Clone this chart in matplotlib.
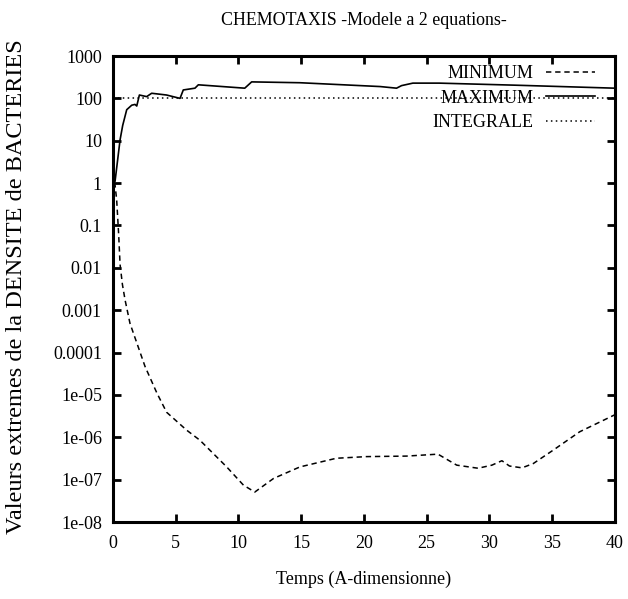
import numpy as np
import matplotlib.pyplot as plt
from matplotlib.ticker import FixedLocator, NullLocator

plt.rcParams['font.family'] = ['Liberation Serif', 'DejaVu Serif']

# readings from the reference picture
t_max = [0, 0.16, 0.56, 0.77, 1.09, 1.49, 1.75, 1.89, 2.1, 2.68, 3.08, 4.27,
         5.34, 5.6, 6.53, 6.8, 10.5, 11.05, 14.9, 21.3, 22.6, 23.0, 23.9,
         26.0, 32.0, 40.0]
v_max = [1.0, 1.1, 10.5, 23, 54, 69, 72, 66, 120, 110, 132, 120,
         100, 158, 174, 209, 174, 245, 234, 190, 174, 200, 229,
         229, 205, 174]

t_min = [0, 0.16, 0.29, 0.45, 0.56, 0.75, 0.96, 1.35, 2.55, 3.5, 4.27, 5.86, 6.93,
         9.06, 10.4, 11.3, 12.8, 14.9, 17.8, 20.2, 23.4, 25.9, 27.4, 29.1,
         30.2, 31.0, 31.6, 32.6, 33.5, 35.1, 37.2, 40.0]
v_min = [1.0, 0.9, 0.4, 0.06, 0.012, 0.004, 1.74e-3, 4.9e-4, 4.7e-5, 1.1e-5, 3.9e-6,
         1.48e-6, 8.5e-7, 2.0e-7, 7.4e-8, 5.1e-8, 1.07e-7, 2.0e-7, 3.2e-7,
         3.5e-7, 3.6e-7, 4.0e-7, 2.2e-7, 1.86e-7, 2.2e-7, 2.8e-7, 2.1e-7,
         1.9e-7, 2.4e-7, 5.0e-7, 1.35e-6, 3.4e-6]

t_int = [0, 40]
v_int = [100, 100]

y_ticks = [1e-8, 1e-7, 1e-6, 1e-5, 1e-4, 1e-3, 1e-2, 1e-1, 1, 10, 100, 1000]
y_labels = ['1e-08', '1e-07', '1e-06', '1e-05', '0.0001', '0.001', '0.01',
            '0.1', '1', '10', '100', '1000']
x_ticks = [0, 5, 10, 15, 20, 25, 30, 35, 40]

fig = plt.figure(figsize=(6.28, 5.99), dpi=100)
ax = fig.add_axes([0.18, 0.1285, 0.799, 0.778])

ax.plot(t_min, v_min, color='black', lw=1.1, ls=(0, (3.5, 2.5)), label='MINIMUM')
ax.plot(t_max, v_max, color='black', lw=1.2, ls='-', label='MAXIMUM')
ax.plot(t_int, v_int, color='black', lw=1.1, ls=(0, (1, 2.2)), label='INTEGRALE')

ax.set_yscale('log')
ax.set_xlim(0, 40)
ax.set_ylim(1e-8, 1000)
ax.yaxis.set_major_locator(FixedLocator(y_ticks))
ax.yaxis.set_minor_locator(NullLocator())
ax.set_yticklabels(y_labels)
ax.set_xticks(x_ticks)
ax.tick_params(direction='in', length=6, width=2, top=True, right=True,
               labelsize=13)
ax.tick_params(axis='x', pad=9)
ax.tick_params(axis='y', pad=8)
for s in ax.spines.values():
    s.set_linewidth(2.2)

ax.set_title('CHEMOTAXIS -Modele a 2 equations-', fontsize=12.9, pad=22)
ax.set_xlabel('Temps (A-dimensionne)', fontsize=13, labelpad=14)
ax.set_ylabel('Valeurs extremes de la DENSITE de BACTERIES', fontsize=17.5)
ax.yaxis.set_label_coords(-0.171, 0.506)

leg = ax.legend(loc='upper right', bbox_to_anchor=(0.974, 0.996), frameon=False,
                markerfirst=False, fontsize=13, handlelength=2.7,
                labelspacing=0.42, handletextpad=0.7, borderaxespad=0)

fig.savefig('out.png', dpi=100)
